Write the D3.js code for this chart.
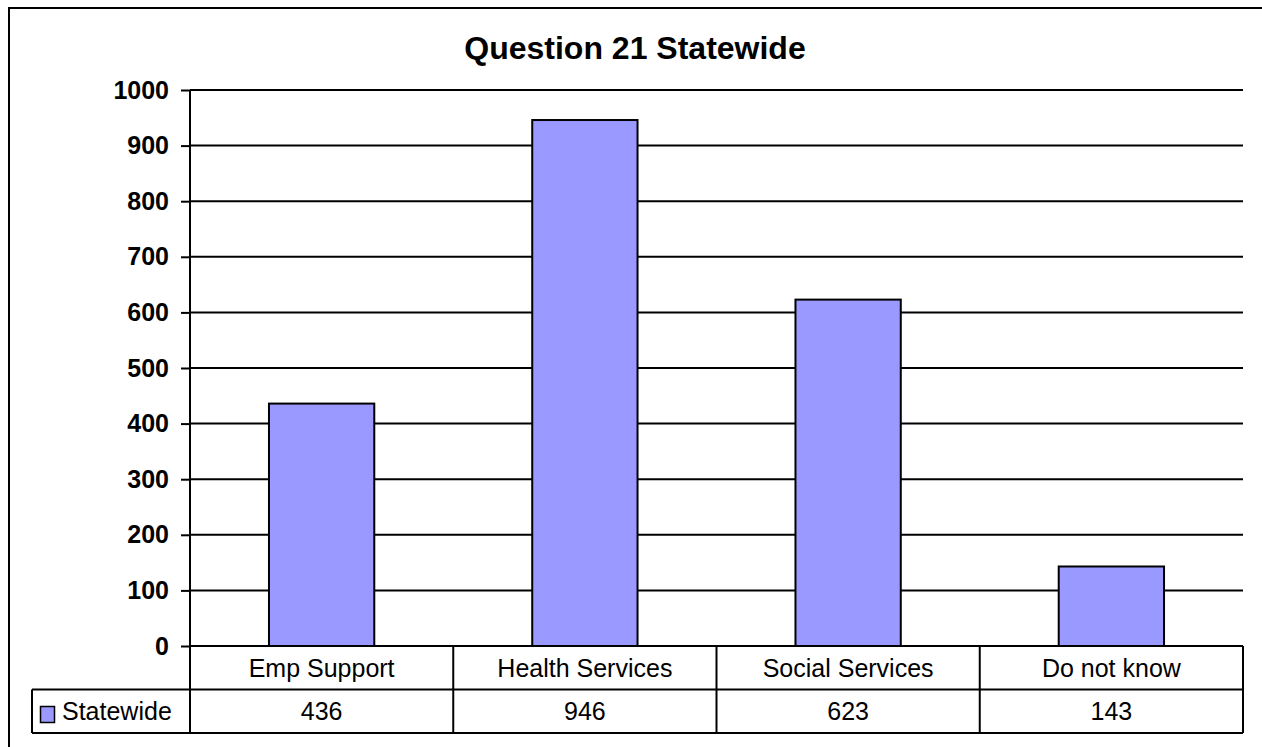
<!DOCTYPE html>
<html>
<head>
<meta charset="utf-8">
<script src="https://cdn.jsdelivr.net/npm/d3@7"></script>
<style>
  body { margin: 0; background: #fff; }
  svg { display: block; font-family: "Liberation Sans", Arial, sans-serif; }
</style>
</head>
<body>
<svg id="chart" width="1262" height="747"></svg>
<script>
// chart data
var categories = ["Emp Support", "Health Services", "Social Services", "Do not know"];
var seriesName = "Statewide";
var values = [436, 946, 623, 143];
var yTicks = [0, 100, 200, 300, 400, 500, 600, 700, 800, 900, 1000];

var svg = d3.select('#chart');
var plotLeft = 190, plotRight = 1243, plotTop = 90, plotBottom = 646;
var rowH = 43.5;
var fontSize = 25;

// outer frame (only top and left edges show)
svg.append('path')
    .attr('d', 'M9,747 L9,8 L1262,8')
    .attr('fill', 'none')
    .attr('stroke', '#000')
    .attr('stroke-width', 2);

svg.append('text')
    .attr('x', 635)
    .attr('y', 59)
    .attr('text-anchor', 'middle')
    .attr('font-size', 32)
    .attr('font-weight', 'bold')
    .text('Question 21 Statewide');

var x = d3.scaleBand()
    .domain(categories)
    .range([plotLeft, plotRight])
    .paddingInner(0)
    .paddingOuter(0);

var y = d3.scaleLinear()
    .domain([0, 1000])
    .range([plotBottom, plotTop]);

// gridlines
svg.selectAll('line.grid')
    .data(yTicks.filter(function(d) {return d > 0;}))
    .enter()
    .append('line')
    .attr('class', 'grid')
    .attr('x1', plotLeft)
    .attr('x2', plotRight)
    .attr('y1', function(d) {return y(d);})
    .attr('y2', function(d) {return y(d);})
    .attr('stroke', '#000')
    .attr('stroke-width', 2);

// y axis
var yAxis = svg.append('g')
    .attr('transform', 'translate(' + plotLeft + ',0)')
    .call(d3.axisLeft(y).tickValues(yTicks).tickSize(9).tickPadding(12).tickFormat(d3.format('d')));
yAxis.select('.domain').attr('stroke', '#000').attr('stroke-width', 2).attr('d', 'M0,' + plotTop + 'V' + plotBottom);
yAxis.selectAll('.tick line').attr('stroke', '#000').attr('stroke-width', 2);
yAxis.selectAll('.tick text')
    .attr('font-size', fontSize)
    .attr('font-weight', 'bold')
    .attr('font-family', '"Liberation Sans", Arial, sans-serif')
    .attr('fill', '#000');

// bars
var barW = x.bandwidth() * 0.4;
svg.selectAll('rect.bar')
    .data(values)
    .enter()
    .append('rect')
    .attr('class', 'bar')
    .attr('x', function(d, i) {return x(categories[i]) + (x.bandwidth() - barW) / 2;})
    .attr('y', function(d) {return y(d);})
    .attr('width', barW)
    .attr('height', function(d) {return plotBottom - y(d);})
    .attr('fill', '#9999FF')
    .attr('stroke', '#000')
    .attr('stroke-width', 2);

// data table
var tbl = svg.append('g').attr('stroke', '#000').attr('stroke-width', 2).attr('fill', 'none');
tbl.append('line').attr('x1', plotLeft).attr('x2', plotRight).attr('y1', plotBottom).attr('y2', plotBottom);
tbl.append('line').attr('x1', 32).attr('x2', plotRight).attr('y1', plotBottom + rowH).attr('y2', plotBottom + rowH);
tbl.append('line').attr('x1', 32).attr('x2', plotRight).attr('y1', plotBottom + 2 * rowH).attr('y2', plotBottom + 2 * rowH);
tbl.append('line').attr('x1', 32).attr('x2', 32).attr('y1', plotBottom + rowH).attr('y2', plotBottom + 2 * rowH);
tbl.selectAll('line.col')
    .data(categories.concat(['end']))
    .enter()
    .append('line')
    .attr('class', 'col')
    .attr('x1', function(d, i) {return plotLeft + i * x.bandwidth();})
    .attr('x2', function(d, i) {return plotLeft + i * x.bandwidth();})
    .attr('y1', plotBottom)
    .attr('y2', plotBottom + 2 * rowH);

svg.selectAll('text.cat')
    .data(categories)
    .enter()
    .append('text')
    .attr('class', 'cat')
    .attr('x', function(d) {return x(d) + x.bandwidth() / 2;})
    .attr('y', plotBottom + rowH / 2 + 9)
    .attr('text-anchor', 'middle')
    .attr('font-size', fontSize)
    .text(function(d) {return d;});

svg.selectAll('text.val')
    .data(values)
    .enter()
    .append('text')
    .attr('class', 'val')
    .attr('x', function(d, i) {return x(categories[i]) + x.bandwidth() / 2;})
    .attr('y', plotBottom + rowH * 1.5 + 9)
    .attr('text-anchor', 'middle')
    .attr('font-size', fontSize)
    .text(function(d) {return d;});

// legend key
svg.append('rect')
    .attr('x', 40.5).attr('y', 706.5)
    .attr('width', 14).attr('height', 16)
    .attr('fill', '#9999FF')
    .attr('stroke', '#000')
    .attr('stroke-width', 1.5);
svg.append('text')
    .attr('x', 62)
    .attr('y', plotBottom + rowH * 1.5 + 9)
    .attr('font-size', fontSize)
    .text(seriesName);
</script>
</body>
</html>
